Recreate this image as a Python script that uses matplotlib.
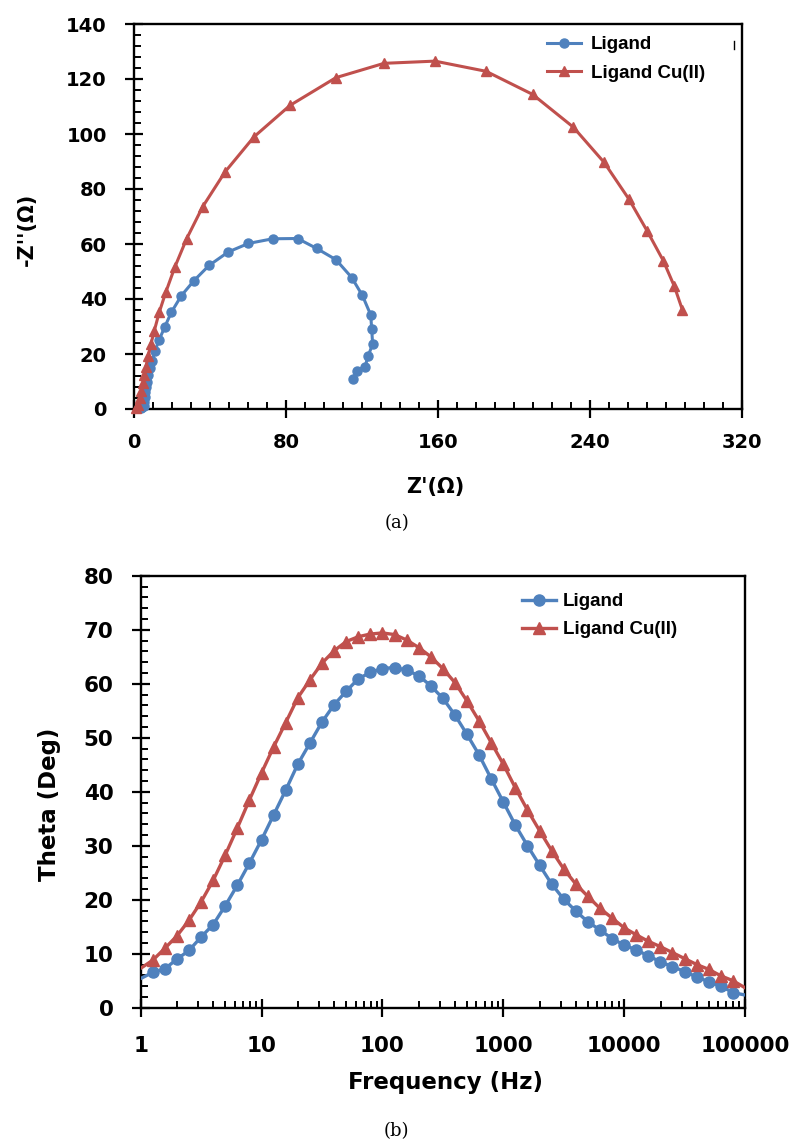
import matplotlib
matplotlib.use('Agg')
import matplotlib.pyplot as plt
from matplotlib.ticker import MultipleLocator, LogLocator, NullFormatter, FuncFormatter
from matplotlib.font_manager import FontProperties
from matplotlib.lines import Line2D

# ---------------- data ----------------
# (a) Nyquist plot
zre_ligand = [3.5, 4.3, 5.1, 5.4, 5.8, 6.0, 6.2, 6.7, 7.5, 8.4, 9.6, 11.0, 13.2, 16.3, 19.6,
              24.9, 31.6, 39.5, 49.6, 60.2, 73.0, 86.1, 96.1, 106.3, 114.6, 120.2, 124.6,
              125.1, 125.6, 123.3, 121.6, 117.2, 115.4]
zim_ligand = [0.2, 0.6, 1.2, 2.7, 4.5, 6.3, 8.1, 9.9, 12.4, 14.8, 17.6, 21.1, 25.1, 30.0, 35.1,
              41.2, 46.7, 52.2, 57.1, 60.2, 61.9, 62.0, 58.4, 54.3, 47.8, 41.3, 34.2,
              29.0, 23.6, 19.4, 15.4, 13.9, 10.9]
zre_cu = [1.0, 2.3, 3.1, 3.9, 4.6, 5.4, 6.3, 7.5, 8.9, 10.7, 13.3, 16.7, 21.6, 27.7, 36.1,
          47.9, 63.2, 82.1, 106.3, 131.6, 158.4, 185.3, 209.8, 231.2, 247.4, 260.5, 270.2,
          278.6, 284.4, 288.6]
zim_cu = [0.2, 1.5, 3.9, 6.7, 9.4, 12.4, 15.4, 19.3, 23.6, 28.5, 35.2, 42.4, 51.8, 61.9, 73.5,
          86.2, 99.0, 110.4, 120.5, 125.7, 126.5, 122.8, 114.4, 102.5, 89.7, 76.3, 64.6,
          53.9, 44.6, 36.1]

# (b) Bode phase plot
freq = [1, 1.259, 1.585, 1.995, 2.512, 3.162, 3.981, 5.012, 6.310, 7.943,
        10, 12.59, 15.85, 19.95, 25.12, 31.62, 39.81, 50.12, 63.10, 79.43,
        100, 125.9, 158.5, 199.5, 251.2, 316.2, 398.1, 501.2, 631.0, 794.3,
        1000, 1259, 1585, 1995, 2512, 3162, 3981, 5012, 6310, 7943,
        10000, 12590, 15850, 19950, 25120, 31620, 39810, 50120, 63100, 79430,
        100000]
theta_ligand = [5.4, 6.55, 7.2, 9.0, 10.6, 13.1, 15.4, 18.9, 22.7, 26.8,
                31.1, 35.7, 40.3, 45.1, 49.0, 52.9, 56.1, 58.6, 60.9, 62.1,
                62.8, 63.0, 62.5, 61.5, 59.6, 57.3, 54.2, 50.6, 46.8, 42.4,
                38.1, 33.8, 30.0, 26.4, 22.9, 20.1, 17.9, 15.9, 14.4, 12.8,
                11.6, 10.7, 9.6, 8.5, 7.6, 6.7, 5.7, 4.8, 4.0, 2.8,
                2.35]
theta_cu = [7.3, 8.8, 11.0, 13.3, 16.2, 19.6, 23.6, 28.3, 33.3, 38.5,
            43.5, 48.3, 52.8, 57.4, 60.7, 63.8, 66.1, 67.8, 68.7, 69.2,
            69.4, 69.1, 68.1, 66.7, 65.0, 62.8, 60.2, 56.8, 53.1, 49.1,
            45.1, 40.7, 36.6, 32.8, 29.1, 25.7, 22.9, 20.6, 18.4, 16.6,
            14.8, 13.5, 12.3, 11.3, 10.2, 9.1, 8.0, 7.1, 5.9, 5.0,
            3.7]

series_labels = ['Ligand', 'Ligand Cu(II)']
BLUE = '#4F81BD'
RED = '#C0504D'

# ---------------- figure ----------------
plt.rcParams['font.family'] = ['DejaVu Sans']
plt.rcParams['font.weight'] = 'bold'
W, H = 793, 1141
fig = plt.figure(figsize=(W / 100, H / 100), dpi=100)


def fy(py):
    return 1 - py / H


def style_axes(ax, labelsize, xpad, ypad):
    for sp in ax.spines.values():
        sp.set_linewidth(1.7)
        sp.set_color('black')
    ax.tick_params(which='major', direction='inout', length=13, width=1.6,
                   labelsize=labelsize, colors='black')
    ax.tick_params(axis='x', which='major', pad=xpad)
    ax.tick_params(axis='y', which='major', pad=ypad)
    ax.tick_params(which='minor', direction='in', length=5, width=1.4)
    for lbl in ax.get_xticklabels() + ax.get_yticklabels():
        lbl.set_fontweight('bold')


# ---- (a) ----
ax1 = fig.add_axes([134 / W, fy(409), (742 - 134) / W, (409 - 24) / H])
ax1.plot(zre_ligand, zim_ligand, color=BLUE, marker='o', ms=6.5, lw=2.2,
         label=series_labels[0], clip_on=False, zorder=3)
ax1.plot(zre_cu, zim_cu, color=RED, marker='^', ms=7, lw=2.2,
         label=series_labels[1], clip_on=False, zorder=3)
ax1.set_xlim(0, 320)
ax1.set_ylim(0, 140)
ax1.xaxis.set_major_locator(MultipleLocator(80))
ax1.xaxis.set_minor_locator(MultipleLocator(10))
ax1.yaxis.set_major_locator(MultipleLocator(20))
ax1.yaxis.set_minor_locator(MultipleLocator(4))
style_axes(ax1, 14, 11, 13)

leg1 = ax1.legend(loc='upper left', bbox_to_anchor=(547 / W, fy(36)),
                  bbox_transform=fig.transFigure, frameon=False, borderpad=0,
                  borderaxespad=0, handlelength=1.8, handletextpad=0.55,
                  labelspacing=0.62,
                  prop=FontProperties(family='Liberation Sans', weight='bold', size=13.5))
# small frame remnant visible at the legend's right
fig.add_artist(Line2D([734 / W, 734 / W], [fy(41), fy(49)], color='black', lw=1))

fig.text(435 / W, fy(487), "Z'(Ω)", ha='center', va='center', fontsize=15, fontweight='bold')
fig.text(27 / W, fy(229), "-Z''(Ω)", ha='center', va='center', rotation=90,
         fontsize=15, fontweight='bold')
fig.text(397 / W, fy(523), '(a)', ha='center', va='center', fontsize=13,
         fontweight='normal', family='DejaVu Serif')

# ---- (b) ----
ax2 = fig.add_axes([140.7 / W, fy(1007.7), (745 - 140.7) / W, (1007.7 - 575.7) / H])
ax2.plot(freq, theta_ligand, color=BLUE, marker='o', ms=8, lw=2.4,
         markevery=slice(1, -1), label=series_labels[0], zorder=3)
ax2.plot(freq, theta_cu, color=RED, marker='^', ms=8.5, lw=2.4,
         markevery=slice(1, -1), label=series_labels[1], zorder=3)
ax2.set_xscale('log')
ax2.set_xlim(1, 100000)
ax2.set_ylim(0, 80)
ax2.xaxis.set_major_locator(LogLocator(base=10, numticks=10))
ax2.xaxis.set_minor_locator(LogLocator(base=10, subs=range(2, 10), numticks=100))
ax2.xaxis.set_minor_formatter(NullFormatter())
ax2.xaxis.set_major_formatter(FuncFormatter(lambda v, _: f'{int(round(v))}'))
ax2.yaxis.set_major_locator(MultipleLocator(10))
ax2.yaxis.set_minor_locator(MultipleLocator(2))
style_axes(ax2, 15.5, 14, 13)

leg2 = ax2.legend(loc='upper left', bbox_to_anchor=(521.7 / W, fy(593)),
                  bbox_transform=fig.transFigure, frameon=False, borderpad=0,
                  borderaxespad=0, handlelength=1.85, handletextpad=0.35,
                  labelspacing=0.58,
                  prop=FontProperties(family='Liberation Sans', weight='bold', size=13.5))

fig.text(446 / W, fy(1083), 'Frequency (Hz)', ha='center', va='center', fontsize=16.5,
         fontweight='bold')
fig.text(50 / W, fy(804), 'Theta (Deg)', ha='center', va='center', rotation=90,
         fontsize=16.5, fontweight='bold')
fig.text(396 / W, fy(1131), '(b)', ha='center', va='center', fontsize=13,
         fontweight='normal', family='DejaVu Serif')

fig.savefig('out.png', dpi=100)
